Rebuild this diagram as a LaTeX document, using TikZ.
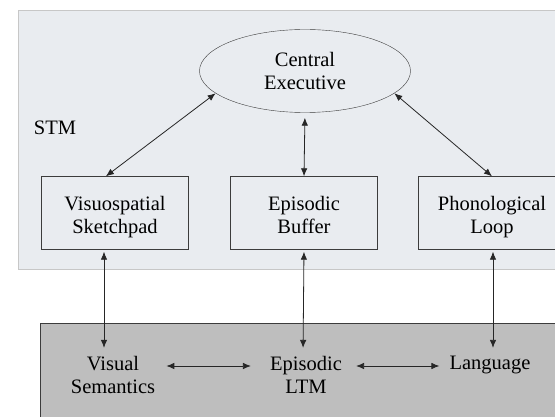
\documentclass[tikz,border=0pt]{standalone}
\usepackage{fontspec}
\setmainfont{Liberation Serif}
\usetikzlibrary{positioning,shapes.geometric,arrows.meta}
\usepackage{xcolor}
\definecolor{stmgray}{RGB}{233,236,240}
\definecolor{ltmgray}{RGB}{190,190,190}
\definecolor{edgegray}{RGB}{60,60,60}

\begin{document}
\begin{tikzpicture}[
  x=1pt, y=-1pt,
  font=\fontsize{20.5}{23.5}\selectfont,
  stmregion/.style={draw=black!22, fill=stmgray, anchor=north west, inner sep=0pt},
  ltmregion/.style={draw=edgegray, fill=ltmgray, anchor=north west, inner sep=0pt},
  comp/.style={draw=edgegray, fill=stmgray, minimum width=147pt, minimum height=73pt, align=center,
    inner xsep=2pt, inner ysep=0pt, text height=57pt, text depth=16pt},
  exec/.style={ellipse, draw=edgegray, minimum width=211pt, minimum height=83pt, align=center, inner sep=0pt},
  store/.style={align=center, inner sep=1pt},
  arr/.style={{Latex[length=8pt,width=6.5pt]}-{Latex[length=8pt,width=6.5pt]}, line width=0.8pt, draw=black!85},
]
\useasboundingbox (0,0) rectangle (555,417);
\clip (0,0) rectangle (555,417);

% Regions
\node[stmregion, minimum width=560pt, minimum height=259pt] (stm) at (18,10) {};
\node[ltmregion, minimum width=540pt, minimum height=120pt] (ltm) at (40,323) {};
\node[inner sep=0pt] (stmlbl) at (55,128) {STM};

% Working memory components
\node[exec] (ce) at (305,71) {Central\\Executive};
\node[comp] (vsp) at (115,213) {Visuospatial\\Sketchpad};
\node[comp] (eb)  at (304,213) {Episodic\\Buffer};
\node[comp] (pl)  at (492,213) {Phonological\\Loop};

% Long-term stores
\node[store] (vs)   at (113,375) {Visual\\Semantics};
\node[store] (eltm) at (306,375) {Episodic\\LTM};
\node[store] (lang) at (490,365) {Language};

% Arrows
\draw[arr] (ce.194) -- (vsp.104);
\draw[arr, shorten <=5pt] (ce.south) -- (eb.north);
\draw[arr] (ce.346) -- (pl.north);

\draw[arr, shorten <=2pt, shorten >=7pt] ([xshift=-11pt]vsp.south) -- ([xshift=-9pt]vs.north);
\draw[arr, shorten <=2pt, shorten >=7pt] (eb.south) -- ([xshift=-3pt]eltm.north);
\draw[arr, shorten <=2pt, shorten >=7pt] ([xshift=1pt]pl.south) -- ([xshift=3pt]lang.north);

\draw[arr, shorten <=10pt, shorten >=18pt] ([yshift=9pt]vs.east) -- ([yshift=9pt]vs.east -| eltm.west);
\draw[arr, shorten <=13pt, shorten >=9pt] ([yshift=9pt]eltm.east) -- ([yshift=9pt]eltm.east -| lang.west);
\end{tikzpicture}
\end{document}
